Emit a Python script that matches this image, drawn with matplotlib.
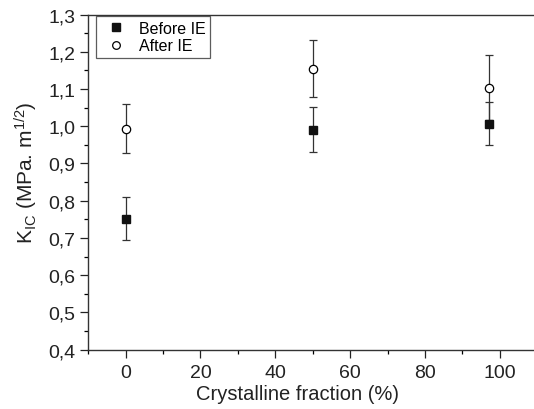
import matplotlib
matplotlib.use('Agg')
import matplotlib.pyplot as plt
from matplotlib.ticker import MultipleLocator, FuncFormatter

plt.rcParams['font.family'] = ['Liberation Sans', 'DejaVu Sans']
plt.rcParams['mathtext.default'] = 'regular'

# crystalline fraction (%)
x = [0, 50, 97]
# fracture toughness K_IC (MPa m^1/2)
before_ie = [0.752, 0.991, 1.007]
before_err = [0.059, 0.060, 0.058]
after_ie = [0.993, 1.155, 1.104]
after_err = [0.066, 0.077, 0.088]

fig = plt.figure(figsize=(5.34, 4.10), dpi=100)
ax = fig.add_axes([0.165, 0.145, 0.841, 0.817])

ekw = dict(ecolor='#333333', elinewidth=0.9, capsize=3.2, capthick=0.9, linestyle='none')
ax.errorbar(x, after_ie, yerr=after_err, fmt='o', ms=6, mfc='white', mec='black',
            mew=0.9, label='After IE', zorder=3, **ekw)
ax.errorbar(x, before_ie, yerr=before_err, fmt='s', ms=6, mfc='#111111', mec='#111111',
            label='Before IE', zorder=4, **ekw)

ax.set_xlim(-10, 110)
ax.set_ylim(0.4, 1.3)
ax.xaxis.set_major_locator(MultipleLocator(20))
ax.xaxis.set_minor_locator(MultipleLocator(10))
ax.yaxis.set_major_locator(MultipleLocator(0.1))
ax.yaxis.set_minor_locator(MultipleLocator(0.05))
ax.yaxis.set_major_formatter(FuncFormatter(lambda v, p: f'{v:.1f}'.replace('.', ',')))

ax.tick_params(which='major', direction='out', length=5.5, width=0.9, labelsize=14,
               colors='#222222')
ax.tick_params(axis='x', which='major', pad=5)
ax.tick_params(which='minor', direction='out', length=3, width=0.9)
for s in ax.spines.values():
    s.set_linewidth(1.0)
    s.set_color('#333333')

ax.set_xlabel('Crystalline fraction (%)', fontsize=14.5, color='#222222')
ax.xaxis.set_label_coords(0.466, -0.103)
ax.set_ylabel(r'K$_{IC}$ (MPa. m$^{1/2}$)', fontsize=15, color='#222222')
ax.yaxis.set_label_coords(-0.107, 0.53)

handles = [ax.plot([], [], 's', ms=5.5, color='#111111')[0],
           ax.plot([], [], 'o', ms=5.5, mfc='white', mec='black', mew=0.9)[0]]
leg = ax.legend(handles, ['Before IE', 'After IE'], loc='upper left', fontsize=11.5,
                frameon=True, fancybox=False, edgecolor='#333333', borderpad=0.3,
                handlelength=1.9, handletextpad=0.45, labelspacing=0.15,
                borderaxespad=0.0, bbox_to_anchor=(0.018, 0.995))
leg.get_frame().set_linewidth(0.9)

fig.savefig('out.png', dpi=100)
